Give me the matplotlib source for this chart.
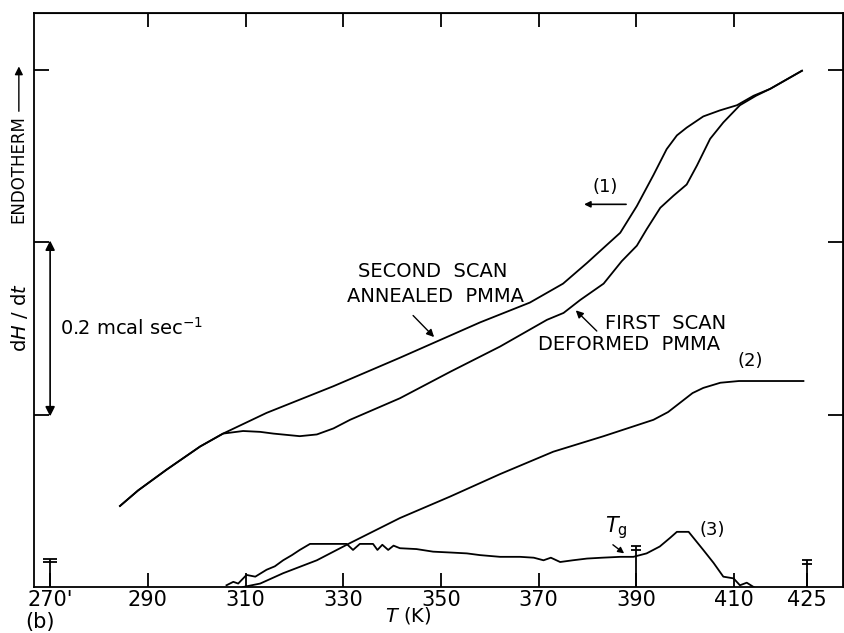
import matplotlib
matplotlib.use("Agg")
import matplotlib.pyplot as plt

plt.rcParams['font.family'] = ['DejaVu Sans']
plt.rcParams['mathtext.fontset'] = 'dejavusans'

# ---- DSC traces: temperature (K) and heat-flow signal (mcal/s above baseline) ----
second_T = [284.3, 288.0, 293.8, 300.7, 305.4, 314.3, 328.0, 341.6, 346.4, 358.0,
            368.2, 375.0, 379.9, 383.0, 386.7, 390.1, 393.5, 396.2, 398.3, 400.3,
            403.7, 407.1, 410.6, 414.0, 417.4, 423.9]
second_y = [0.094, 0.112, 0.136, 0.163, 0.178, 0.202, 0.233, 0.266, 0.278, 0.307,
            0.330, 0.352, 0.376, 0.392, 0.411, 0.442, 0.478, 0.508, 0.524, 0.533,
            0.546, 0.553, 0.559, 0.570, 0.578, 0.599]

first_T = [284.3, 288.0, 293.8, 300.7, 305.4, 309.5, 313.0, 315.7, 321.1, 324.6,
           328.0, 331.4, 341.6, 352.0, 362.1, 371.7, 375.1, 378.5, 383.3, 387.0,
           390.1, 392.1, 394.9, 397.6, 400.3, 402.4, 405.1, 407.8, 411.2, 413.3,
           414.5, 417.4, 423.9]
first_y = [0.094, 0.112, 0.136, 0.163, 0.178, 0.181, 0.180, 0.178, 0.175, 0.177,
           0.184, 0.194, 0.219, 0.250, 0.279, 0.310, 0.318, 0.333, 0.352, 0.378,
           0.396, 0.415, 0.440, 0.454, 0.467, 0.489, 0.520, 0.539, 0.559, 0.566,
           0.570, 0.578, 0.599]

curve2_T = [309.5, 313.0, 317.7, 324.6, 331.4, 341.6, 351.9, 362.1, 373.0, 383.3,
            393.5, 396.5, 399.0, 401.5, 403.7, 407.2, 411.0, 414.0, 424.2]
curve2_y = [0.000, 0.004, 0.016, 0.031, 0.051, 0.080, 0.105, 0.131, 0.157, 0.175,
            0.194, 0.203, 0.214, 0.225, 0.231, 0.237, 0.239, 0.239, 0.239]

curve3_T = [306.1, 307.5, 308.5, 310.2, 312.0, 314.3, 316.0, 317.7, 319.5, 321.1,
            323.2, 330.7, 332.0, 333.4, 336.1, 337.0, 338.0, 339.2, 340.3, 341.6,
            345.0, 348.4, 352.0, 355.3, 358.0, 362.1, 366.2, 369.0, 371.0, 372.5,
            374.4, 377.0, 379.9, 383.0, 386.7, 389.4, 392.1, 394.8, 396.9, 398.3,
            400.7, 403.7, 405.8, 407.8, 409.9, 411.2, 412.6, 414.0]
curve3_y = [0.002, 0.006, 0.004, 0.014, 0.012, 0.020, 0.024, 0.031, 0.037, 0.043,
            0.050, 0.050, 0.043, 0.050, 0.050, 0.043, 0.049, 0.043, 0.048, 0.045,
            0.044, 0.041, 0.040, 0.039, 0.037, 0.035, 0.035, 0.034, 0.031, 0.034,
            0.029, 0.031, 0.033, 0.034, 0.035, 0.035, 0.039, 0.047, 0.057, 0.064,
            0.064, 0.043, 0.028, 0.012, 0.010, 0.002, 0.005, 0.000]

# temperature markers drawn as capped bars on the baseline
marker_T = [270, 390, 425]
marker_h = [0.033, 0.047, 0.031]
marker_cap = [1.5, 1.0, 1.0]

xtick_vals = [270, 290, 310, 330, 350, 370, 390, 410, 425]
xtick_labels = ["270'", "290", "310", "330", "350", "370", "390", "410", "425"]
top_ticks = [290, 310, 330, 350, 370, 390, 410]
ytick_vals = [0.2, 0.4, 0.6]

fig = plt.figure(figsize=(8.45, 6.33), dpi=100)
ax = fig.add_axes([34 / 845, 1 - 587 / 633, (843 - 34) / 845, (587 - 13) / 633])
ax.set_xlim(266.7, 432.3)
ax.set_ylim(0, 0.666)

lw = 1.3
for T, y in [(second_T, second_y), (first_T, first_y),
             (curve2_T, curve2_y), (curve3_T, curve3_y)]:
    ax.plot(T, y, color='black', lw=lw, solid_joinstyle='round')

# capped markers
for T, h, c in zip(marker_T, marker_h, marker_cap):
    ax.vlines(T, 0, h, color='black', lw=1.3)
    ax.hlines([h, h - 0.004], T - c, T + c, color='black', lw=1.3)

for s in ax.spines.values():
    s.set_linewidth(1.3)

ax.set_xticks(xtick_vals)
ax.set_xticklabels(xtick_labels, fontsize=15)
ax.tick_params(axis='x', direction='in', length=10, width=1.3, pad=2)
ax.set_yticks(ytick_vals)
ax.set_yticklabels([])
ax.tick_params(axis='y', direction='in', length=11, width=1.3)

secx = ax.secondary_xaxis('top')
secx.set_xticks(top_ticks)
secx.set_xticklabels([])
secx.tick_params(direction='in', length=10, width=1.3)

secy = ax.secondary_yaxis('right')
secy.set_yticks(ytick_vals)
secy.set_yticklabels([])
secy.tick_params(direction='in', length=11, width=1.3)

# axis labels
ax.text(343.4, -0.0335, r'$T$ (K)', fontsize=14, ha='center', va='center')
ax.text(267.9, -0.041, '(b)', fontsize=15, ha='center', va='center')
ax.text(263.6, 0.485, 'ENDOTHERM', fontsize=12, rotation=90, ha='center', va='center')
ax.annotate('', xy=(263.6, 0.604), xytext=(263.6, 0.552), annotation_clip=False,
            arrowprops=dict(arrowstyle='-|>', color='black', lw=1.0, mutation_scale=12,
                            shrinkA=0, shrinkB=0))
ax.text(263.8, 0.313, r'd$H$ / d$t$', fontsize=14, rotation=90, ha='center', va='center')

# scale bar
ax.annotate('', xy=(270, 0.402), xytext=(270, 0.198), annotation_clip=False,
            arrowprops=dict(arrowstyle='<|-|>', color='black', lw=1.2, mutation_scale=14,
                            shrinkA=0, shrinkB=0))
ax.text(272.0, 0.301, r'0.2 mcal sec$^{-1}$', fontsize=14, ha='left', va='center')

# curve annotations
ax.text(333.0, 0.366, 'SECOND  SCAN', fontsize=14, ha='left', va='center')
ax.text(330.8, 0.337, 'ANNEALED  PMMA', fontsize=14, ha='left', va='center')
ax.annotate('', xy=(348.6, 0.290), xytext=(344.3, 0.315),
            arrowprops=dict(arrowstyle='-|>', color='black', lw=1.0, mutation_scale=11,
                            shrinkA=0, shrinkB=0))

ax.text(383.6, 0.306, 'FIRST  SCAN', fontsize=14, ha='left', va='center')
ax.text(369.9, 0.281, 'DEFORMED  PMMA', fontsize=14, ha='left', va='center')
ax.annotate('', xy=(377.6, 0.321), xytext=(381.9, 0.297),
            arrowprops=dict(arrowstyle='-|>', color='black', lw=1.0, mutation_scale=11,
                            shrinkA=0, shrinkB=0))

ax.text(383.6, 0.464, '(1)', fontsize=13, ha='center', va='center')
ax.annotate('', xy=(379.3, 0.444), xytext=(387.9, 0.444),
            arrowprops=dict(arrowstyle='-|>', color='black', lw=1.2, mutation_scale=9,
                            shrinkA=0, shrinkB=0))
ax.text(413.3, 0.262, '(2)', fontsize=13, ha='center', va='center')
ax.text(405.5, 0.066, '(3)', fontsize=13, ha='center', va='center')

ax.text(385.9, 0.069, r'$T_{\mathrm{g}}$', fontsize=15, ha='center', va='center')
ax.annotate('', xy=(387.5, 0.039), xytext=(385.2, 0.049),
            arrowprops=dict(arrowstyle='-|>', color='black', lw=1.0, mutation_scale=9,
                            shrinkA=0, shrinkB=0))

fig.savefig('out.png', dpi=100, facecolor='white')
